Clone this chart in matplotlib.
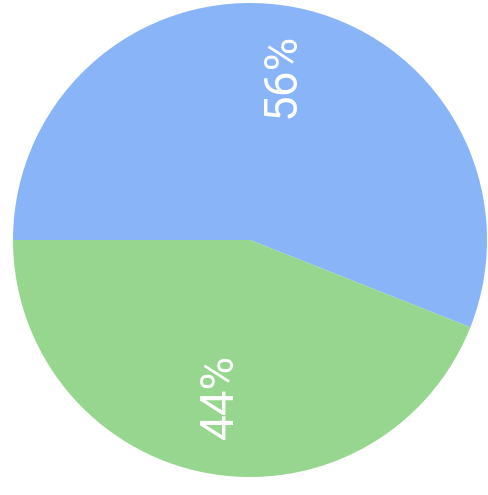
import matplotlib
matplotlib.use("Agg")
import matplotlib.pyplot as plt
import numpy as np

labels = ["56%", "44%"]
values = [56, 44]
colors = ["#8ab4f8", "#97d68e"]

W, H = 488, 495
fig = plt.figure(figsize=(W / 100, H / 100), dpi=100)
ax = fig.add_axes([0, 0, 1, 1])
cx, cy, R = 250, 240, 237
wedges, texts = ax.pie(values, colors=colors, startangle=180, counterclock=False,
                       labels=labels, labeldistance=0.68, radius=1,
                       textprops=dict(color="white", fontsize=33,
                                      family=["Roboto", "DejaVu Sans"], fontweight="normal"))
dists = [0.705, 0.67]
for w, t, d in zip(wedges, texts, dists):
    ang = np.deg2rad((w.theta1 + w.theta2) / 2)
    t.set_position((d * np.cos(ang), d * np.sin(ang)))
    t.set_rotation(90)
    t.set_ha("center")
    t.set_va("center")
ax.set_xlim(-cx / R, (W - cx) / R)
ax.set_ylim(-(H - cy) / R, cy / R)
ax.set_aspect("auto")
ax.axis("off")
fig.savefig("out.png", dpi=100)
